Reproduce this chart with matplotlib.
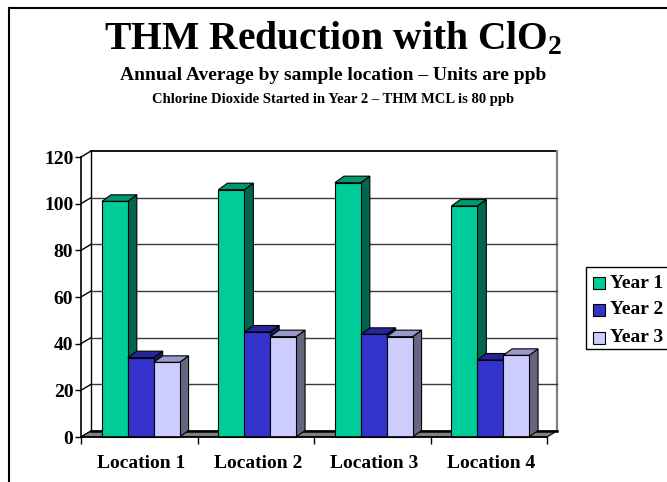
import matplotlib
matplotlib.use("Agg")
import matplotlib.pyplot as plt
from matplotlib.patches import Polygon, Rectangle
from matplotlib.lines import Line2D
import numpy as np

# ---- data ----
categories = ["Location 1", "Location 2", "Location 3", "Location 4"]
series_names = ["Year 1", "Year 2", "Year 3"]
year1 = [101, 106, 109, 99]
year2 = [34, 45, 44, 33]
year3 = [32, 43, 43, 35]
yticks = [0, 20, 40, 60, 80, 100, 120]

title = "THM Reduction with ClO$_\\mathrm{2}$"
subtitle = "Annual Average by sample location \u2013 Units are ppb"
subsub = "Chlorine Dioxide Started in Year 2 \u2013 THM MCL is 80 ppb"

front_cols = ["#00CC99", "#3333CC", "#CCCCFF"]
top_cols = ["#00996F", "#262699", "#9999CC"]
side_cols = ["#00664D", "#1A1A66", "#666680"]

plt.rcParams['font.family'] = ['Liberation Serif', 'DejaVu Serif']
plt.rcParams['font.weight'] = 'bold'
plt.rcParams['mathtext.fontset'] = 'custom'
plt.rcParams['mathtext.rm'] = 'Liberation Serif:bold'
plt.rcParams['mathtext.it'] = 'Liberation Serif:bold'
plt.rcParams['mathtext.bf'] = 'Liberation Serif:bold'

W, H = 667, 482
fig = plt.figure(figsize=(W / 100, H / 100), dpi=100)

def fx(px):
    return px / W

def fy(py):
    return 1 - py / H

# axes = front plane
L, R, B, T = 81, 547, 437, 157
ax = fig.add_axes([fx(L), fy(B), fx(R - L), (B - T) / H])
ax.set_xlim(0, 4)
ax.set_ylim(0, 120)
ax.patch.set_visible(False)
for s in ax.spines.values():
    s.set_visible(False)

px_x = (R - L) / 4.0
px_y = (B - T) / 120.0
wdx = 10 / px_x      # wall depth offset
wdy = 6 / px_y
bdx = 9 / px_x       # bar depth offset
bdy = 6.5 / px_y

# back wall
wall = Polygon([(wdx, wdy), (4 + wdx, wdy), (4 + wdx, 120 + wdy), (wdx, 120 + wdy)],
               closed=True, facecolor="white", edgecolor="none", zorder=0.5, clip_on=False)
ax.add_patch(wall)
ax.add_line(Line2D([wdx, 4 + wdx], [120 + wdy, 120 + wdy], color="black", lw=1.3, zorder=1, clip_on=False))
ax.add_line(Line2D([wdx, wdx], [wdy, 120 + wdy], color="black", lw=1.0, zorder=1, clip_on=False))
ax.add_line(Line2D([4 + wdx, 4 + wdx], [wdy, 120 + wdy], color="#808080", lw=1.6, zorder=1, clip_on=False))
for v in yticks[1:-1]:
    ax.add_line(Line2D([wdx, 4 + wdx], [v + wdy, v + wdy], color="#3a3a3a", lw=1.0, zorder=1, clip_on=False))
for v in yticks:
    ax.add_line(Line2D([0, wdx], [v, v + wdy], color="black", lw=1.0, zorder=1, clip_on=False))

# floor
floor = Polygon([(0, 0), (4, 0), (4 + wdx, wdy), (wdx, wdy)], closed=True,
                facecolor="#808080", edgecolor="black", lw=0.8, zorder=1.2, clip_on=False)
ax.add_patch(floor)
ax.add_line(Line2D([wdx, 4 + wdx], [wdy, wdy], color="black", lw=1.8, zorder=1.3, clip_on=False))

# bars
series = [year1, year2, year3]
bw = 0.222
start = 0.18
z = 2.0
for i in range(len(categories)):
    for k, vals in enumerate(series):
        v = vals[i]
        x0 = i + start + k * bw
        side = Polygon([(x0 + bw, 0), (x0 + bw + bdx, bdy), (x0 + bw + bdx, v + bdy), (x0 + bw, v)],
                       closed=True, facecolor=side_cols[k], edgecolor="black", lw=0.8, zorder=z, clip_on=False)
        top = Polygon([(x0, v), (x0 + bw, v), (x0 + bw + bdx, v + bdy), (x0 + bdx, v + bdy)],
                      closed=True, facecolor=top_cols[k], edgecolor="black", lw=0.8, zorder=z, clip_on=False)
        ax.add_patch(side)
        ax.add_patch(top)
        bars = ax.bar([x0], [v], width=bw, align="edge", color=front_cols[k],
                      edgecolor="black", linewidth=0.8, zorder=z + 0.05, clip_on=False)
        z += 0.1

# front axes lines
ax.add_line(Line2D([0, 0], [0, 120], color="black", lw=1.2, zorder=10, clip_on=False))
ax.add_line(Line2D([0, 4], [0, 0], color="black", lw=1.2, zorder=10, clip_on=False))

ax.set_yticks(yticks)
ax.set_yticklabels([str(t) for t in yticks])
ax.tick_params(axis="y", length=4, width=1.0, pad=1.5, labelsize=14, direction="out")
ax.set_xticks([0, 1, 2, 3, 4])
ax.set_xticklabels([""] * 5)
ax.set_xticks(np.arange(len(categories)) + 0.52, minor=True)
ax.set_xticklabels(categories, minor=True)
ax.tick_params(axis="x", which="major", length=5, width=1.0, direction="out")
ax.tick_params(axis="x", which="minor", length=0, pad=13, labelsize=14)
for lab in ax.get_yticklabels() + ax.get_xticklabels(minor=True):
    lab.set_fontweight("bold")

# titles
fig.text(0.5, fy(39), title, ha="center", va="center", fontsize=28.5, fontweight="bold")
fig.text(0.5, fy(76), subtitle, ha="center", va="center", fontsize=14, fontweight="bold")
fig.text(0.5, fy(100), subsub, ha="center", va="center", fontsize=10.5, fontweight="bold")

# outer frame (partial)
fig.add_artist(Line2D([fx(9), fx(9)], [fy(8), 0], color="black", lw=1.5, transform=fig.transFigure))
fig.add_artist(Line2D([fx(9), 1], [fy(8), fy(8)], color="black", lw=1.5, transform=fig.transFigure))

# legend (manual, clipped by figure edge)
fig.add_artist(Rectangle((fx(586), fy(349)), fx(120), (349 - 267) / H, transform=fig.transFigure,
                         facecolor="white", edgecolor="black", lw=1.0))
leg_y = [283, 310, 338]
for k, name in enumerate(series_names):
    fig.add_artist(Rectangle((fx(593), fy(leg_y[k] + 6)), fx(12), 12 / H, transform=fig.transFigure,
                             facecolor=front_cols[k], edgecolor="black", lw=0.8))
    fig.text(fx(610), fy(leg_y[k]), name, ha="left", va="center", fontsize=14, fontweight="bold")

fig.savefig("out.png", dpi=100)
